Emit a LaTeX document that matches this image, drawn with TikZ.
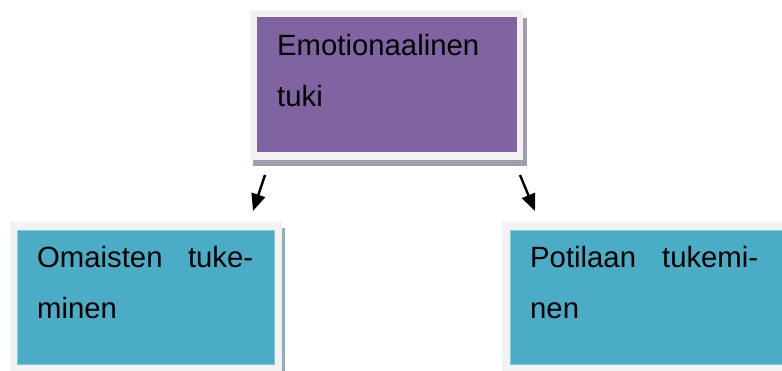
\documentclass[tikz,border=0pt]{standalone}
\usepackage{fontspec}
\setmainfont{Liberation Sans}
\usetikzlibrary{arrows.meta}
\definecolor{emopurple}{HTML}{8064A2}
\definecolor{emoshadow}{HTML}{A39BB0}
\definecolor{tukiblue}{HTML}{4BACC6}
\definecolor{tukiedge}{HTML}{7FCBDD}
\definecolor{blueshadow}{HTML}{8FAFBD}
\definecolor{framegray}{HTML}{F2F2F2}
\begin{document}
\begin{tikzpicture}[x=1pt,y=-1pt,
  framebox/.style={fill=framegray,draw=none},
  purplebox/.style={fill=emopurple,draw=none},
  bluebox/.style={fill=tukiblue,draw=tukiedge,line width=0.8pt},
  boxtext/.style={anchor=base west,inner sep=0pt,font=\fontsize{29.3}{51}\selectfont},
  arrowline/.style={line width=2.4pt,-{Triangle[length=17pt,width=14pt]}}
]
\useasboundingbox (0,0) rectangle (782,371);
% top box
\fill[emoshadow] (253,18) rectangle (527,166);
\node[framebox,minimum width=273pt,minimum height=150pt,inner sep=0pt,anchor=north west] (emoframe) at (250,10) {};
\node[purplebox,minimum width=260pt,minimum height=135pt,inner sep=0pt,anchor=north west] (emo) at (257,17) {};
\node[boxtext] (emotext) at (277,56) {\parbox[t]{240pt}{Emotionaalinen\\tuki}};
% left box
\fill[blueshadow] (282,228) rectangle (285,380);
\node[framebox,minimum width=272pt,minimum height=160pt,inner sep=0pt,anchor=north west] (leftframe) at (10,222) {};
\node[bluebox,minimum width=257pt,minimum height=134pt,inner sep=0pt,anchor=north west] (omaiset) at (17,230) {};
\node[boxtext] (omaisettext) at (37,268) {\parbox[t]{216pt}{\makebox[216pt][s]{Omaisten\hfill tuke-}\\minen}};
% right box
\node[framebox,minimum width=290pt,minimum height=160pt,inner sep=0pt,anchor=north west] (rightframe) at (502,222) {};
\node[bluebox,minimum width=280pt,minimum height=134pt,inner sep=0pt,anchor=north west] (potilas) at (510,230) {};
\node[boxtext] (potilastext) at (530,268) {\parbox[t]{228pt}{\makebox[228pt][s]{Potilaan\hfill tukemi-}\\nen}};
% arrows
\coordinate (la) at (265,175);
\coordinate (lb) at (253,211);
\coordinate (ra) at (520,175);
\coordinate (rb) at (535,211);
\draw[arrowline] (la) -- (lb);
\draw[arrowline] (ra) -- (rb);
\end{tikzpicture}
\end{document}
